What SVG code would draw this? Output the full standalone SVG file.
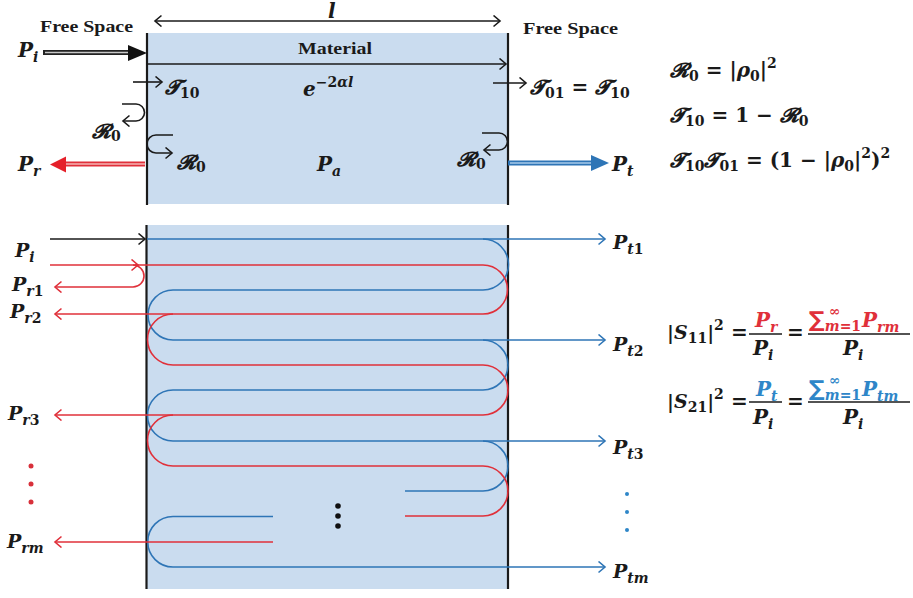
<svg xmlns="http://www.w3.org/2000/svg" width="913" height="598" viewBox="0 0 913 598">
<style>
.mat{fill:#cadcef;}
.wall{stroke:#1a1a1a;stroke-width:2.2;fill:none;}
.k{stroke:#1a1a1a;stroke-width:1.6;fill:none;}
.r{stroke:#e0303a;stroke-width:1.6;fill:none;}
.b{stroke:#2e75b6;stroke-width:1.6;fill:none;}
text{font-family:"DejaVu Serif","Liberation Serif",serif;font-weight:bold;fill:#1a1a1a;}
.hd{font-family:"Liberation Serif","Times New Roman",serif;font-size:16px;}
.v{font-style:italic;font-size:20px;}
.vb{font-style:italic;font-size:19px;}
.eq{font-size:20px;}
.s{font-size:14px;font-style:normal;}
.si{font-size:14px;font-style:italic;}
.sc{font-style:italic;font-size:20px;}
.red{fill:#e0303a;}
.blu{fill:#2e86c8;}
</style>
<defs>
<marker id="ak" markerUnits="userSpaceOnUse" markerWidth="10" markerHeight="14" refX="7" refY="6" orient="auto-start-reverse"><path d="M0.5,0.5 L7,6 L0.5,11.5" fill="none" stroke="#1a1a1a" stroke-width="1.6"/></marker>
<marker id="ar" markerUnits="userSpaceOnUse" markerWidth="10" markerHeight="14" refX="7" refY="6" orient="auto"><path d="M0.5,0.5 L7,6 L0.5,11.5" fill="none" stroke="#e0303a" stroke-width="1.6"/></marker>
<marker id="ab" markerUnits="userSpaceOnUse" markerWidth="10" markerHeight="14" refX="7" refY="6" orient="auto"><path d="M0.5,0.5 L7,6 L0.5,11.5" fill="none" stroke="#2e75b6" stroke-width="1.6"/></marker>
</defs>

<g id="top-material">
<rect class="mat" x="147" y="33" width="361" height="171"/>
<line class="wall" x1="147" y1="33" x2="147" y2="205"/>
<line class="wall" x1="508" y1="33" x2="508" y2="205"/>
</g>

<g id="top-labels">
<text class="hd" x="40" y="32" textLength="93" lengthAdjust="spacingAndGlyphs">Free Space</text>
<text class="hd" x="523" y="34" textLength="95" lengthAdjust="spacingAndGlyphs">Free Space</text>
<text class="v" x="328" y="18" font-size="15">l</text>
<text class="hd" x="298" y="54" textLength="74" lengthAdjust="spacingAndGlyphs">Material</text>
<text x="303" y="96"><tspan class="v">e</tspan><tspan class="s" dy="-9">−2</tspan><tspan class="si">αl</tspan></text>
<text x="165" y="94"><tspan class="sc">𝓣</tspan><tspan class="s" dy="4">10</tspan></text>
<text x="92" y="138"><tspan class="sc">𝓡</tspan><tspan class="s" dy="3">0</tspan></text>
<text x="177" y="169"><tspan class="sc">𝓡</tspan><tspan class="s" dy="3">0</tspan></text>
<text x="457" y="166"><tspan class="sc">𝓡</tspan><tspan class="s" dy="3">0</tspan></text>
<text x="530" y="94"><tspan class="sc">𝓣</tspan><tspan class="s" dy="4">01</tspan><tspan class="eq" dy="-4"> = </tspan><tspan class="sc">𝓣</tspan><tspan class="s" dy="4">10</tspan></text>
<text x="18" y="57"><tspan class="v">P</tspan><tspan class="si" dy="5">i</tspan></text>
<text x="18" y="171"><tspan class="v">P</tspan><tspan class="si" dy="5">r</tspan></text>
<text x="317" y="171"><tspan class="v">P</tspan><tspan class="si" dy="5">a</tspan></text>
<text x="612" y="171"><tspan class="v">P</tspan><tspan class="si" dy="5">t</tspan></text>
</g>

<g id="top-arrows">
<line class="k" x1="155" y1="21" x2="500" y2="21" marker-start="url(#ak)" marker-end="url(#ak)"/>
<line class="k" x1="147" y1="64" x2="506" y2="64" marker-end="url(#ak)"/>
<line class="k" x1="133" y1="82" x2="162" y2="82" marker-end="url(#ak)"/>
<line class="k" x1="493" y1="83" x2="526" y2="83" marker-end="url(#ak)"/>
<path class="k" d="M122,104 H136 A8.5,8.5 0 0 1 136,121 H123" marker-end="url(#ak)"/>
<path class="k" d="M173,135 H156 A9,9 0 0 0 156,153 H172" marker-end="url(#ak)"/>
<path class="k" d="M482,133 H499 A8.5,8.5 0 0 1 499,150 H484" marker-end="url(#ak)"/>
<line x1="43" y1="52.5" x2="132" y2="52.5" stroke="#222" stroke-width="5"/>
<line x1="45" y1="52.5" x2="132" y2="52.5" stroke="#c8c8c8" stroke-width="1.5"/>
<polygon points="128,45 147,53 128,61" fill="#111"/>
<line x1="145" y1="164" x2="62" y2="164" stroke="#e0303a" stroke-width="5"/>
<line x1="145" y1="164" x2="62" y2="164" stroke="#f6b4b4" stroke-width="1.5"/>
<polygon points="66,156.5 50,164.5 66,172.5" fill="#e5202a"/>
<line x1="508" y1="163" x2="593" y2="163" stroke="#2e75b6" stroke-width="5"/>
<line x1="510" y1="163" x2="593" y2="163" stroke="#a8cbea" stroke-width="1.5"/>
<polygon points="591,155 609,163 591,171" fill="#2e75b6"/>
</g>

<g id="top-equations">
<text x="670" y="77" class="eq"><tspan class="sc">𝓡</tspan><tspan class="s" dy="4">0</tspan><tspan dy="-4"> = |</tspan><tspan font-style="italic">ρ</tspan><tspan class="s" dy="4">0</tspan><tspan dy="-4">|</tspan><tspan class="s" dy="-9">2</tspan></text>
<text x="670" y="122" class="eq"><tspan class="sc">𝓣</tspan><tspan class="s" dy="4">10</tspan><tspan dy="-4"> = 1 − </tspan><tspan class="sc">𝓡</tspan><tspan class="s" dy="4">0</tspan></text>
<text x="670" y="167" class="eq"><tspan class="sc">𝓣</tspan><tspan class="s" dy="4">10</tspan><tspan class="sc" dy="-4">𝓣</tspan><tspan class="s" dy="4">01</tspan><tspan dy="-4"> = (1 − |</tspan><tspan font-style="italic">ρ</tspan><tspan class="s" dy="4">0</tspan><tspan dy="-4">|</tspan><tspan class="s" dy="-9">2</tspan><tspan dy="9">)</tspan><tspan class="s" dy="-9">2</tspan></text>
</g>

<g id="bottom-material">
<rect class="mat" x="147" y="225" width="361" height="364"/>
<line class="wall" x1="146.5" y1="225" x2="146.5" y2="589"/>
<line class="wall" x1="508" y1="225" x2="508" y2="589"/>
</g>

<g id="connectors">
<line class="k" x1="50" y1="239" x2="145" y2="239" marker-end="url(#ak)"/>
<path class="b" d="M147,239 H605" marker-end="url(#ab)"/>
<path class="b" d="M483,239 A25.5,25.5 0 0 1 483,290 H173 A25,25 0 0 0 173,340 H483 A25,25 0 0 1 483,390 H173 A25.5,25.5 0 0 0 173,441 H483 A25,25 0 0 1 483,491 H405"/>
<path class="b" d="M483,340 H605" marker-end="url(#ab)"/>
<path class="b" d="M483,441 H605" marker-end="url(#ab)"/>
<path class="b" d="M273,516.5 H173 A25.25,25.25 0 0 0 173,567 H605" marker-end="url(#ab)"/>
<path class="r" d="M50,265 H138" marker-end="url(#ar)"/>
<path class="r" d="M135,265 H483 A24.5,24.5 0 0 1 483,314 H173 A25.5,25.5 0 0 0 173,365 H483 A25,25 0 0 1 483,415 H173 A25.5,25.5 0 0 0 173,466 H483 A25,25 0 0 1 483,516 H405"/>
<path class="r" d="M133,265 A11,11 0 0 1 133,287 H55" marker-end="url(#ar)"/>
<path class="r" d="M173,314 H55" marker-end="url(#ar)"/>
<path class="r" d="M173,415 H55" marker-end="url(#ar)"/>
<path class="r" d="M273,542 H55" marker-end="url(#ar)"/>
</g>

<g id="dots">
<circle cx="31" cy="466" r="2.5" fill="#d8303a"/>
<circle cx="31" cy="484" r="2.5" fill="#d8303a"/>
<circle cx="31" cy="502" r="2.5" fill="#d8303a"/>
<circle cx="338" cy="506" r="2.8" fill="#111"/>
<circle cx="338" cy="516" r="2.8" fill="#111"/>
<circle cx="338" cy="526" r="2.8" fill="#111"/>
<circle cx="627" cy="494" r="2" fill="#2e86c8"/>
<circle cx="627" cy="512" r="2" fill="#2e86c8"/>
<circle cx="627" cy="530" r="2" fill="#2e86c8"/>
</g>

<g id="bottom-labels">
<text x="15" y="257"><tspan class="vb">P</tspan><tspan class="si" dy="5">i</tspan></text>
<text x="12" y="291"><tspan class="vb">P</tspan><tspan class="si" dy="5">r</tspan><tspan class="s">1</tspan></text>
<text x="10" y="318"><tspan class="vb">P</tspan><tspan class="si" dy="5">r</tspan><tspan class="s">2</tspan></text>
<text x="8" y="420"><tspan class="vb">P</tspan><tspan class="si" dy="5">r</tspan><tspan class="s">3</tspan></text>
<text x="7" y="548"><tspan class="vb">P</tspan><tspan class="si" dy="5">rm</tspan></text>
<text x="613" y="249"><tspan class="vb">P</tspan><tspan class="si" dy="5">t</tspan><tspan class="s">1</tspan></text>
<text x="613" y="351"><tspan class="vb">P</tspan><tspan class="si" dy="5">t</tspan><tspan class="s">2</tspan></text>
<text x="613" y="454"><tspan class="vb">P</tspan><tspan class="si" dy="5">t</tspan><tspan class="s">3</tspan></text>
<text x="613" y="578"><tspan class="vb">P</tspan><tspan class="si" dy="5">tm</tspan></text>
</g>

<g id="s-equations">
<text x="667" y="339" font-size="19">|<tspan font-style="italic">S</tspan><tspan class="s" font-size="13" dy="4">11</tspan><tspan dy="-4">|</tspan><tspan class="s" font-size="13" dy="-9">2</tspan></text>
<text x="731" y="339" class="eq">=</text>
<text x="755" y="327" class="v red">P<tspan class="si" dy="5">r</tspan></text>
<line x1="749" y1="334" x2="782" y2="334" stroke="#1a1a1a" stroke-width="1.3"/>
<text x="753" y="355" class="v">P<tspan class="si" dy="5">i</tspan></text>
<text x="787" y="339" class="eq">=</text>
<text x="809" y="327" class="red"><tspan font-size="22" font-family="DejaVu Sans, sans-serif">∑</tspan><tspan class="si red" font-size="13" dy="4">m</tspan><tspan class="s red" font-size="13">=1</tspan><tspan class="s red" font-size="13" x="829" dy="-15">∞</tspan><tspan class="v red" x="862" dy="11">P</tspan><tspan class="si red" dy="5">rm</tspan></text>
<line x1="808" y1="334" x2="910" y2="334" stroke="#1a1a1a" stroke-width="1.3"/>
<text x="843" y="355" class="v">P<tspan class="si" dy="5">i</tspan></text>

<text x="667" y="408" font-size="19">|<tspan font-style="italic">S</tspan><tspan class="s" font-size="13" dy="4">21</tspan><tspan dy="-4">|</tspan><tspan class="s" font-size="13" dy="-9">2</tspan></text>
<text x="731" y="408" class="eq">=</text>
<text x="756" y="396" class="v blu">P<tspan class="si" dy="5">t</tspan></text>
<line x1="749" y1="402" x2="782" y2="402" stroke="#1a1a1a" stroke-width="1.3"/>
<text x="753" y="424" class="v">P<tspan class="si" dy="5">i</tspan></text>
<text x="787" y="408" class="eq">=</text>
<text x="809" y="396" class="blu"><tspan font-size="22" font-family="DejaVu Sans, sans-serif">∑</tspan><tspan class="si blu" font-size="13" dy="4">m</tspan><tspan class="s blu" font-size="13">=1</tspan><tspan class="s blu" font-size="13" x="829" dy="-15">∞</tspan><tspan class="v blu" x="862" dy="11">P</tspan><tspan class="si blu" dy="5">tm</tspan></text>
<line x1="808" y1="402" x2="910" y2="402" stroke="#1a1a1a" stroke-width="1.3"/>
<text x="843" y="424" class="v">P<tspan class="si" dy="5">i</tspan></text>
</g>
</svg>
